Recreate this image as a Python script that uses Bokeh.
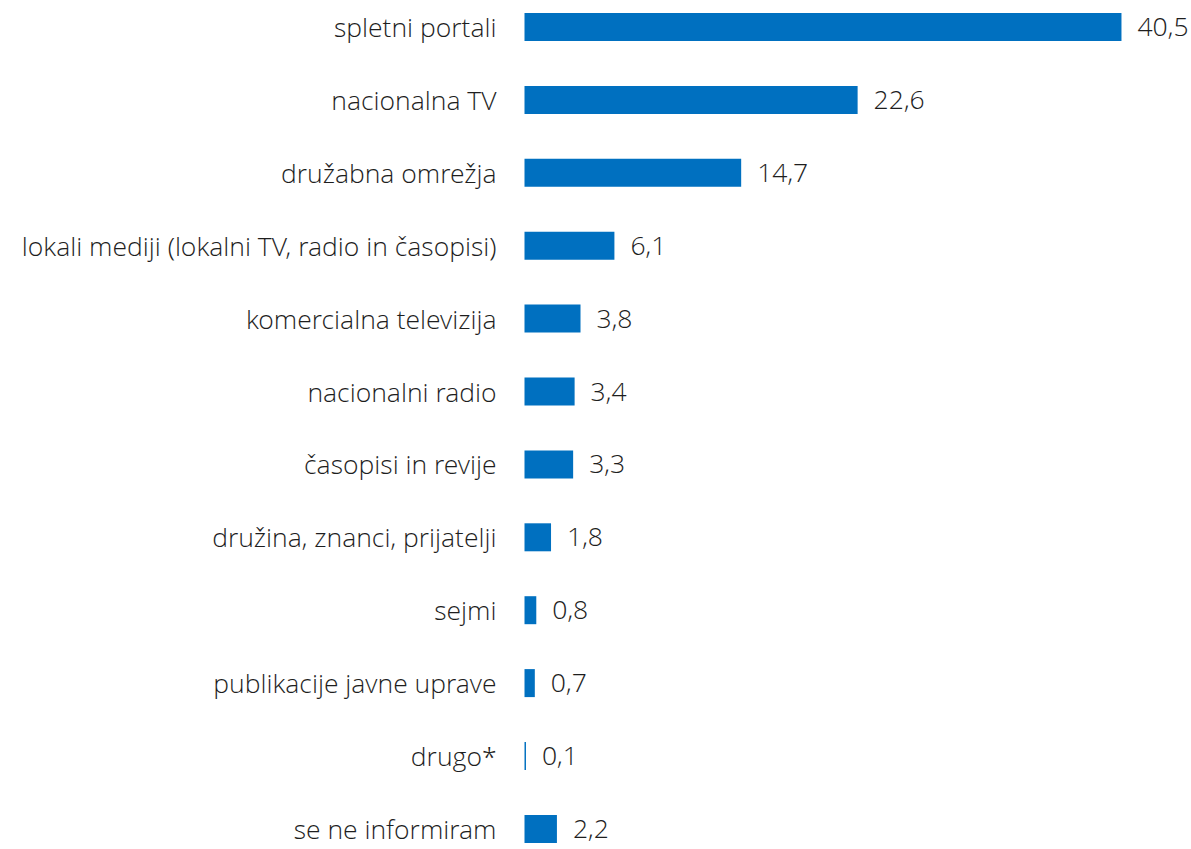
from bokeh.plotting import figure
from bokeh.models import Range1d, ColumnDataSource
from bokeh.core.properties import value
from bokeh.embed import file_html
from bokeh.resources import INLINE

categories = [
    "spletni portali",
    "nacionalna TV",
    "družabna omrežja",
    "lokali mediji (lokalni TV, radio in časopisi)",
    "komercialna televizija",
    "nacionalni radio",
    "časopisi in revije",
    "družina, znanci, prijatelji",
    "sejmi",
    "publikacije javne uprave",
    "drugo*",
    "se ne informiram",
]
values = [40.5, 22.6, 14.7, 6.1, 3.8, 3.4, 3.3, 1.8, 0.8, 0.7, 0.1, 2.2]
value_labels = [f"{v:.1f}".replace(".", ",") for v in values]

W, H = 1191, 849
px_per_unit = 14.74
x0 = -524 / px_per_unit
x1 = x0 + W / px_per_unit
row = 72.9
first = 26.5
top = -first / row
bottom = (H - first) / row

src = ColumnDataSource(dict(
    y=list(range(len(categories))),
    v=values,
    cat=categories,
    lab=value_labels,
))

p = figure(width=W, height=H, output_backend="svg", toolbar_location=None,
           x_range=Range1d(x0, x1), y_range=Range1d(bottom, top),
           min_border=0, outline_line_color=None)
p.axis.visible = False
p.grid.visible = False
p.background_fill_color = "white"
p.border_fill_color = "white"

p.hbar(y="y", left=0, right="v", height=28 / row, source=src,
       fill_color="#0070C0", line_color=None)

FONT = value("Open Sans Light, Open Sans")
p.text(x=0, y="y", text="cat", source=src, x_offset=-28,
       text_align="right", text_baseline="middle",
       text_font=FONT, text_font_size="26.5px", text_color="#1e1e1e")
p.text(x="v", y="y", text="lab", source=src, x_offset=16,
       text_align="left", text_baseline="middle",
       text_font=FONT, text_font_size="26.5px", text_color="#1e1e1e")

open("out.html", "w").write(file_html(p, INLINE))
